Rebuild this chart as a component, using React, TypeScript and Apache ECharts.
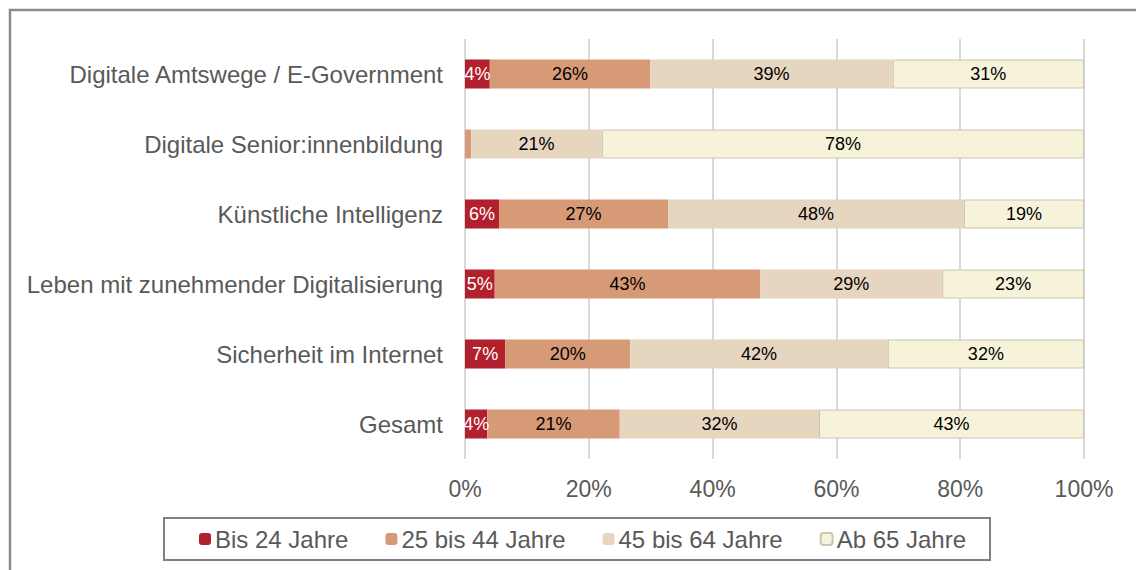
import React, { useEffect, useRef } from "react";
import * as echarts from "echarts";

const categories = [
  "Digitale Amtswege / E-Government",
  "Digitale Senior:innenbildung",
  "Künstliche Intelligenz",
  "Leben mit zunehmender Digitalisierung",
  "Sicherheit im Internet",
  "Gesamt",
];
const seriesNames = ["Bis 24 Jahre", "25 bis 44 Jahre", "45 bis 64 Jahre", "Ab 65 Jahre"];
const bis24 = [4.0, 0, 5.5, 4.8, 6.5, 3.6];
const bis44 = [25.9, 1.0, 27.3, 42.9, 20.2, 21.4];
const bis64 = [39.2, 21.1, 47.8, 29.4, 41.6, 32.2];
const ab65 = [30.9, 77.9, 19.4, 22.9, 31.7, 42.8];
const xTicks = [0, 20, 40, 60, 80, 100];

const colors = ["#B21F2D", "#D79A77", "#E6D5BF", "#F6F3DA"];
const labelColors = ["#ffffff", "#000000", "#000000", "#000000"];
const FONT = "Arial, 'Liberation Sans', sans-serif";

export default function App() {
  const ref = useRef<HTMLDivElement>(null);
  useEffect(() => {
    document.body.style.margin = "0";
    const chart = echarts.init(ref.current!, undefined, { renderer: "svg" });
    const data = [bis24, bis44, bis64, ab65];
    chart.setOption({
      animation: false,
      textStyle: { fontFamily: FONT },
      grid: { left: 465, right: 52, top: 39, bottom: 111, containLabel: false },
      xAxis: {
        type: "value",
        min: xTicks[0],
        max: xTicks[xTicks.length - 1],
        interval: 20,
        axisLine: { show: false },
        axisTick: { show: false },
        splitLine: { show: true, lineStyle: { color: "#D9D9D9", width: 2 } },
        axisLabel: {
          formatter: (v: number) => v + "%",
          fontSize: 23,
          color: "#595959",
          margin: 18,
          fontFamily: FONT,
        },
      },
      yAxis: {
        type: "category",
        data: categories,
        inverse: true,
        axisLine: { show: false },
        axisTick: { show: false },
        axisLabel: { fontSize: 24, color: "#595959", margin: 22, fontFamily: FONT },
      },
      legend: {
        left: 194,
        top: 522,
        itemWidth: 12,
        itemHeight: 12,
        itemGap: 37,
        textStyle: { fontSize: 24, color: "#595959", fontFamily: FONT, padding: [0, 0, 0, -1] },
        data: seriesNames,
      },
      graphic: [
        {
          type: "rect",
          shape: { x: 10, y: 10, width: 1200, height: 700 },
          style: { fill: "none", stroke: "#8A8A8A", lineWidth: 2.5 },
          silent: true,
          z: -1,
        },
        {
          type: "rect",
          shape: { x: 164, y: 518, width: 826, height: 42 },
          style: { fill: "none", stroke: "#808080", lineWidth: 2 },
          silent: true,
        },
      ],
      series: seriesNames.map((name, i) => ({
        name,
        type: "bar",
        stack: "total",
        barWidth: 29,
        data: data[i],
        itemStyle:
          i === 3
            ? { color: colors[i], borderColor: "#C9C6AE", borderWidth: 1 }
            : { color: colors[i] },
        label: {
          show: true,
          position: "inside",
          fontSize: 18,
          color: labelColors[i],
          fontFamily: FONT,
          formatter: (p: any) => (p.value >= 2 ? Math.round(p.value) + "%" : ""),
        },
      })),
    });
    return () => chart.dispose();
  }, []);
  return <div ref={ref} style={{ width: 1136, height: 570 }} />;
}
